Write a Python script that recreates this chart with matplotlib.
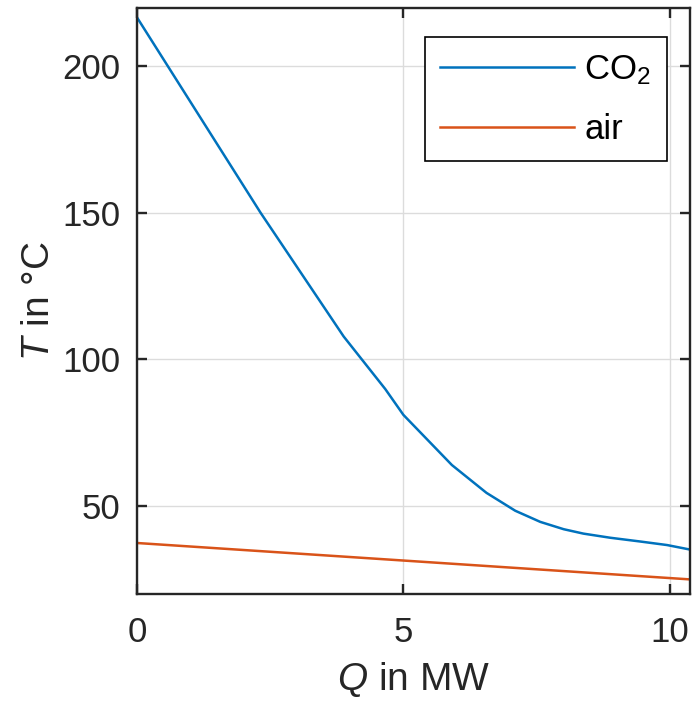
import matplotlib
matplotlib.use("Agg")
import matplotlib.pyplot as plt

plt.rcParams["font.family"] = ["Liberation Sans", "DejaVu Sans"]
plt.rcParams["mathtext.fontset"] = "custom"
plt.rcParams["mathtext.rm"] = "Liberation Sans"
plt.rcParams["mathtext.it"] = "Liberation Sans:italic"

# heat duty Q (MW) vs temperature T (degC)
q_co2 = [0.0, 2.32, 3.88, 4.66, 5.0, 5.91, 6.56, 7.10, 7.57, 8.01, 8.38, 8.88, 9.45, 9.95, 10.37]
t_co2 = [216.6, 150.0, 107.8, 89.9, 81.1, 64.0, 54.5, 48.4, 44.6, 42.1, 40.6, 39.2, 37.9, 36.7, 35.2]
q_air = [0.0, 10.37]
t_air = [37.4, 25.0]

xticks = [0, 5, 10]
yticks = [50, 100, 150, 200]

dark = "#262626"

fig = plt.figure(figsize=(6.98, 7.01), dpi=100)
ax = fig.add_axes([0.1963, 0.1526, 0.7922, 0.8367])

ax.plot(q_co2, t_co2, color="#0072BD", lw=1.8, label="CO$_{2}$")
ax.plot(q_air, t_air, color="#D95319", lw=1.8, label="air")

ax.set_xlim(0, 10.38)
ax.set_ylim(20, 220)
ax.set_xticks(xticks)
ax.set_yticks(yticks)
ax.grid(True, color="#dcdcdc", lw=1.0)
ax.set_axisbelow(True)

for s in ax.spines.values():
    s.set_color(dark)
    s.set_linewidth(1.7)
ax.tick_params(direction="in", length=7, width=1.7, colors=dark, labelsize=25,
               top=True, right=True, pad=12)
ax.tick_params(axis="x", pad=16)
for lab in ax.get_xticklabels() + ax.get_yticklabels():
    lab.set_color(dark)

ax.set_xlabel("$\\mathit{Q}$ in MW", fontsize=28, color=dark, labelpad=8)
ax.set_ylabel("$\\mathit{T}$ in °C", fontsize=28, color=dark, labelpad=4)

leg = ax.legend(loc="upper right", bbox_to_anchor=(0.958, 0.949), borderaxespad=0,
                fontsize=25, handlelength=3.85, handletextpad=0.3, labelspacing=0.75,
                fancybox=False, framealpha=1, edgecolor="#000000", borderpad=0.45)
leg.get_frame().set_linewidth(1.2)

fig.savefig("out.png", dpi=100)
